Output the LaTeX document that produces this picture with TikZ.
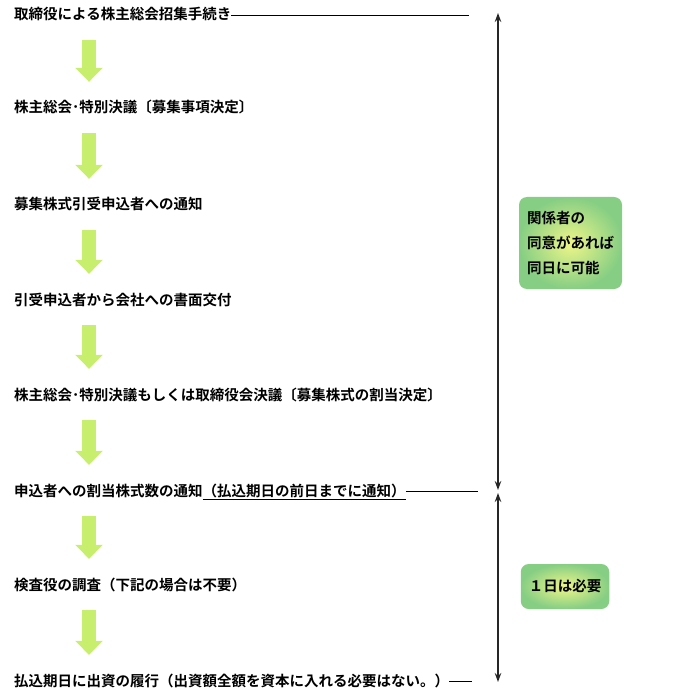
\documentclass[tikz,border=0pt]{standalone}
\usepackage{fontspec}
\setmainfont{Noto Sans CJK JP}[BoldFont={Noto Sans CJK JP Bold}]
\usepackage{tikz}
\usetikzlibrary{arrows.meta}

\definecolor{arrowgreen}{RGB}{200,238,110}
\definecolor{notegreen}{RGB}{134,206,132}
\definecolor{noteyellow}{RGB}{238,246,136}

\begin{document}
\begin{tikzpicture}[x=1pt, y=-1pt,
stepnode/.style={anchor=west, inner sep=0pt, text height=12pt, text depth=2pt, font=\fontsize{14.5}{17}\selectfont\bfseries},
flowarrow/.style={draw=arrowgreen, line width=14pt, -{Triangle[width=27pt,length=14pt]}, shorten <=18pt, shorten >=19pt},
sideline/.style={draw=black, line width=0.9pt},
rangearrow/.style={draw=black!85, line width=1.2pt, {Stealth[length=9pt,width=6.5pt]}-{Stealth[length=9pt,width=6.5pt]}},
notebox/.style={rounded corners=8pt, inner color=noteyellow, outer color=notegreen, align=left, inner xsep=8pt, font=\fontsize{14.5}{25}\selectfont\bfseries},
]
\useasboundingbox (0,0) rectangle (700,700);

%Nodes
\node[stepnode] (s1) at (14,15)  {取締役による株主総会招集手続き};
\node[stepnode] (s2) at (14,108) {株主総会･特別決議〔募集事項決定〕};
\node[stepnode] (s3) at (14,205) {募集株式引受申込者への通知};
\node[stepnode] (s4) at (14,300) {引受申込者から会社への書面交付};
\node[stepnode] (s5) at (14,395) {株主総会･特別決議もしくは取締役会決議〔募集株式の割当決定〕};
\node[stepnode] (s6) at (14,491) {申込者への割当株式数の通知\underline{（払込期日の前日までに通知）}};
\node[stepnode] (s7) at (14,585) {検査役の調査（下記の場合は不要）};
\node[stepnode] (s8) at (14,681) {払込期日に出資の履行（出資額全額を資本に入れる必要はない。）};

\node[notebox, text width=87pt, minimum height=92pt] (agree) at (570.5,243) {関係者の\\同意があれば\\同日に可能};
\node[notebox, minimum width=88pt, minimum height=45pt] (oneday) at (565,586.5) {１日は必要};

\coordinate (ax) at (89,0);
\coordinate (e1) at (469,15);
\coordinate (e6) at (478,491);
\coordinate (e8) at (472,681);
\coordinate (t1) at (498,13);
\coordinate (t2) at (498,490);
\coordinate (t3) at (498,493);
\coordinate (t4) at (498,682);

%Lines
\draw[flowarrow] (s1.south -| ax) -- (s2.north -| ax);
\draw[flowarrow] (s2.south -| ax) -- (s3.north -| ax);
\draw[flowarrow] (s3.south -| ax) -- (s4.north -| ax);
\draw[flowarrow] (s4.south -| ax) -- (s5.north -| ax);
\draw[flowarrow] (s5.south -| ax) -- (s6.north -| ax);
\draw[flowarrow] (s6.south -| ax) -- (s7.north -| ax);
\draw[flowarrow] (s7.south -| ax) -- (s8.north -| ax);

\draw[sideline] (s1.east) -- (s1.east -| e1);
\draw[sideline] (s6.east) -- (s6.east -| e6);
\draw[sideline] (s8.east) -- (s8.east -| e8);

\draw[rangearrow] (t1) -- (t2);
\draw[rangearrow] (t3) -- (t4);

\end{tikzpicture}
\end{document}
